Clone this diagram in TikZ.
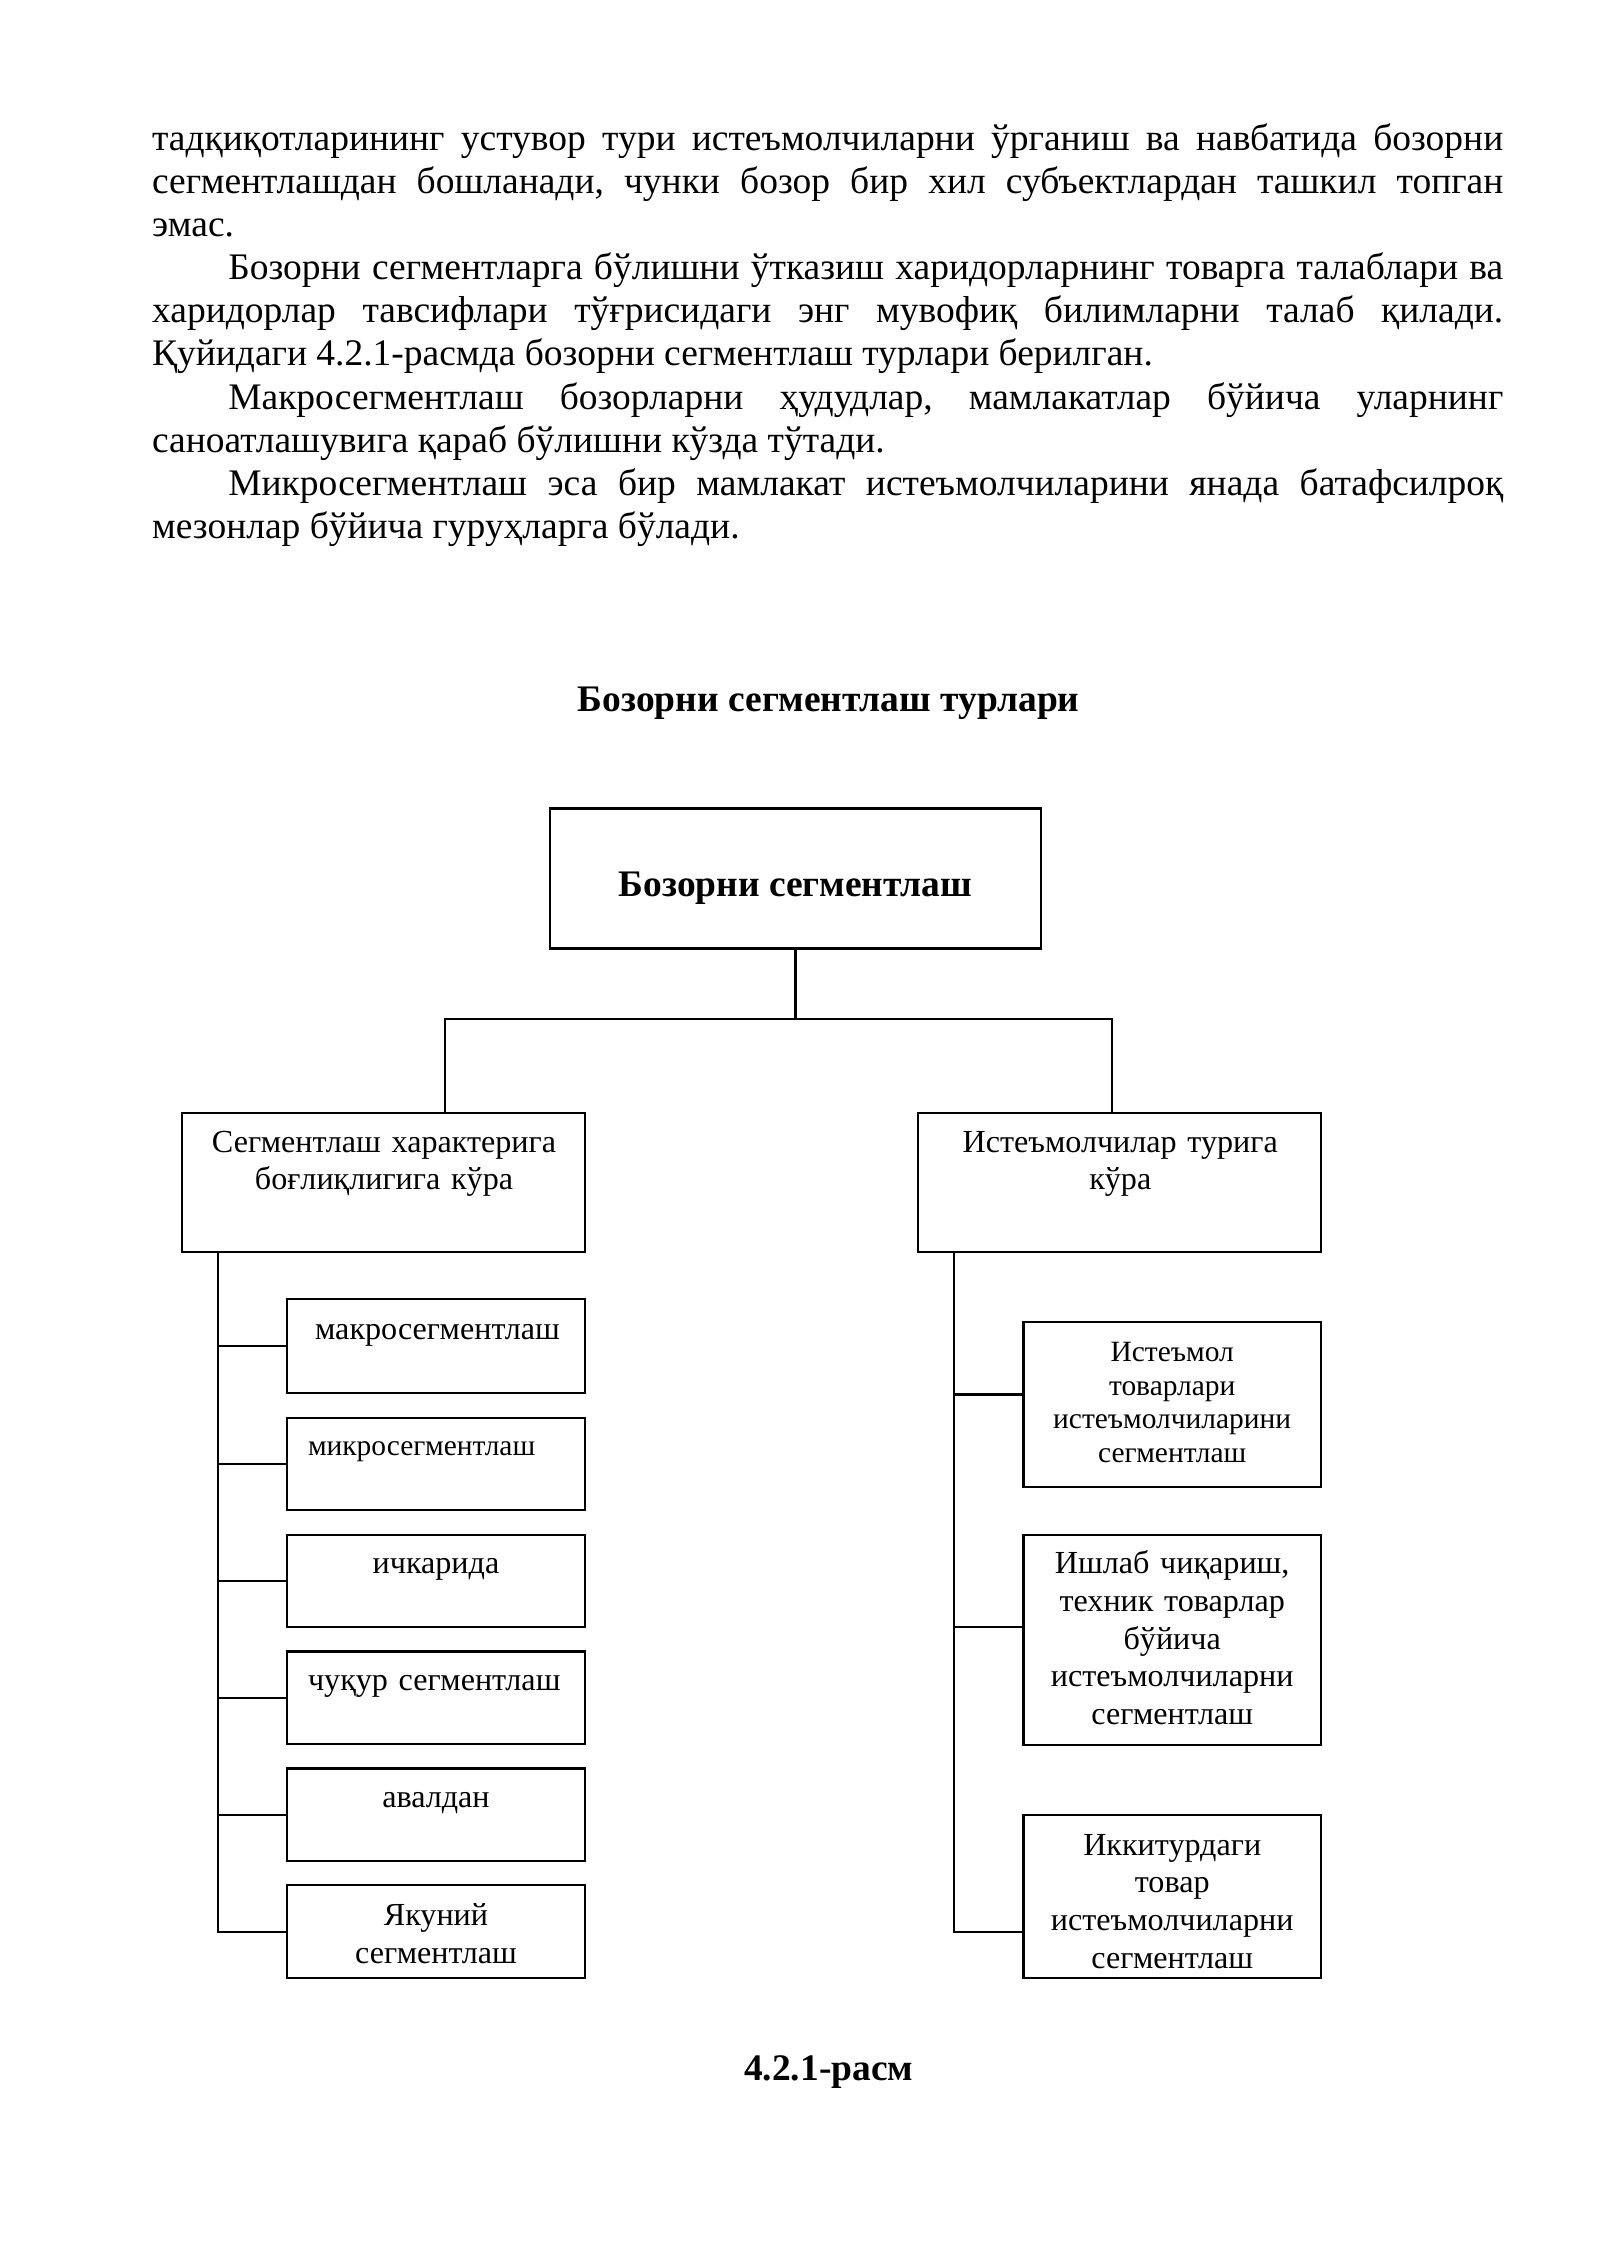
\documentclass[tikz,border=0pt]{standalone}
\usepackage{fontspec}
\setmainfont{Liberation Serif}
\usetikzlibrary{positioning}

\newcommand{\pxu}{0.18948mm}
\tikzset{
  box/.style={draw, line width=0.8pt, rectangle, inner sep=0pt, outer sep=0pt, anchor=north west},
  link/.style={line width=0.8pt},
  txt/.style={anchor=base, align=center, inner sep=0pt, text width=200*\pxu,
              font=\fontsize{12pt}{14.1pt}\selectfont},
  txtwide/.style={txt, text width=275*\pxu},
  txtsm/.style={txt, font=\fontsize{11pt}{12.6pt}\selectfont},
  txtbf/.style={anchor=base, inner sep=0pt, font=\fontsize{14pt}{16.2pt}\selectfont\bfseries}
}

\begin{document}
\begin{tikzpicture}[x=\pxu, y=-\pxu]
            \useasboundingbox (0,0) rectangle (1108.3,1566.9);

            % text above the figure
            \node[anchor=base west, inner sep=0pt, text width=936*\pxu, align=justify,
                  font=\fontsize{14pt}{16.12pt}\selectfont] (body) at (105,104)
              {\setlength{\parindent}{10mm}\tolerance=10000\hyphenpenalty=10000\frenchspacing
               тадқиқотларининг устувор тури истеъмолчиларни ўрганиш ва навбатида бозорни\linebreak
               сегментлашдан бошланади, чунки бозор бир хил субъектлардан ташкил топган\linebreak
               эмас.\par
               Бозорни сегментларга бўлишни ўтказиш харидорларнинг товарга талаблари ва\linebreak
               харидорлар тавсифлари тўғрисидаги энг мувофиқ билимларни талаб қилади.\linebreak
               Қуйидаги 4.2.1-расмда бозорни сегментлаш турлари берилган.\par
               Макросегментлаш бозорларни ҳудудлар, мамлакатлар бўйича уларнинг\linebreak
               саноатлашувига қараб бўлишни кўзда тўтади.\par
               Микросегментлаш эса бир мамлакат истеъмолчиларини янада батафсилроқ\linebreak
               мезонлар бўйича гуруҳларга бўлади.\par};

            \node[txtbf] (title) at (574,493) {Бозорни сегментлаш турлари};

            % boxes
            \node[box, minimum width=340*\pxu, minimum height=97*\pxu] (top) at (381,560) {};
            \node[box, minimum width=279*\pxu, minimum height=96*\pxu] (lbox) at (126,771) {};
            \node[box, minimum width=279*\pxu, minimum height=96*\pxu] (rbox) at (636,771) {};

            \node[box, minimum width=206*\pxu, minimum height=65*\pxu] (m1) at (199,900) {};
            \node[box, minimum width=206*\pxu, minimum height=64*\pxu] (m2) at (199,982) {};
            \node[box, minimum width=206*\pxu, minimum height=64*\pxu] (m3) at (199,1063) {};
            \node[box, minimum width=206*\pxu, minimum height=64*\pxu] (m4) at (199,1144) {};
            \node[box, minimum width=206*\pxu, minimum height=64*\pxu] (m5) at (199,1225) {};
            \node[box, minimum width=206*\pxu, minimum height=64*\pxu] (m6) at (199,1306) {};

            \node[box, minimum width=206*\pxu, minimum height=114*\pxu] (r1) at (709,916) {};
            \node[box, minimum width=206*\pxu, minimum height=146*\pxu] (r2) at (709,1063) {};
            \node[box, minimum width=206*\pxu, minimum height=113*\pxu] (r3) at (709,1257) {};

            % box texts
            \node[txtbf] (toptxt) at (551,621) {Бозорни сегментлаш};
            \node[txtwide] (ltxt) at (266,798) {Сегментлаш характерига\\боғлиқлигига кўра};
            \node[txtwide] (rtxt) at (776,798) {Истеъмолчилар турига\\кўра};

            \node[txt] (m1txt) at (303,928) {макросегментлаш};
            \node[txtsm, anchor=base west, align=left] (m2txt) at (213,1008) {микросегментлаш};
            \node[txt] (m3txt) at (302,1090) {ичкарида};
            \node[txt, anchor=base west, align=left] (m4txt) at (213,1171) {чуқур сегментлаш};
            \node[txt] (m5txt) at (302,1252) {авалдан};
            \node[txt] (m6txt) at (302,1334) {Якуний\\сегментлаш};

            \node[txtsm] (r1txt) at (812,943) {Истеъмол\\товарлари\\истеъмолчиларини\\сегментлаш};
            \node[txt] (r2txt) at (812,1090) {Ишлаб чиқариш,\\техник товарлар\\бўйича\\истеъмолчиларни\\сегментлаш};
            \node[txt] (r3txt) at (812,1285) {Иккитурдаги\\товар\\истеъмолчиларни\\сегментлаш};

            % connectors
            \coordinate (bus) at (551,706);
            \coordinate (busl) at (308,706);
            \coordinate (busr) at (770,706);
            \draw[link] (top.south) -- (bus);
            \draw[link] (busl |- lbox.north) -- (busl) -- (busr) -- (busr |- rbox.north);

            \coordinate (lsp) at (151,867);
            \draw[link] (lsp) |- (m6.west);
            \draw[link] (m1.west -| lsp) -- (m1.west);
            \draw[link] (m2.west -| lsp) -- (m2.west);
            \draw[link] (m3.west -| lsp) -- (m3.west);
            \draw[link] (m4.west -| lsp) -- (m4.west);
            \draw[link] (m5.west -| lsp) -- (m5.west);

            \coordinate (rsp) at (661,867);
            \coordinate (rt1) at (709,966);
            \coordinate (rt2) at (709,1127);
            \coordinate (rt3) at (709,1338);
            \draw[link] (rsp) |- (rt3);
            \draw[link] (rt1 -| rsp) -- (rt1);
            \draw[link] (rt2 -| rsp) -- (rt2);

            \node[txtbf] (caption) at (574,1441) {4.2.1-расм};
        \end{tikzpicture}
\end{document}
